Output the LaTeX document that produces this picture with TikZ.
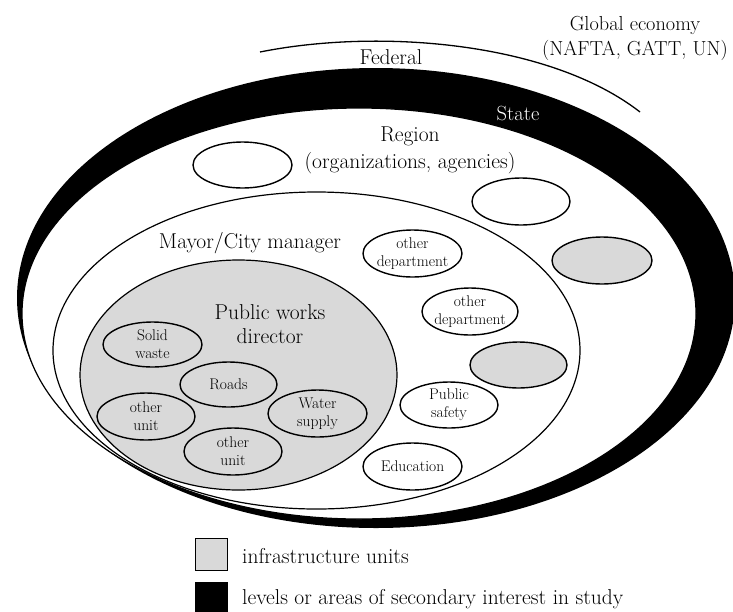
\documentclass[tikz,border=0pt]{standalone}
\usetikzlibrary{shapes.geometric}
\begin{document}
\begin{tikzpicture}[x=1pt,y=-1pt,
  bigtext/.style={font=\fontsize{21.5}{25}\selectfont, align=center, inner sep=0pt},
  smalltext/.style={font=\fontsize{15.5}{18}\selectfont, align=center, inner sep=0pt},
  oval/.style={ellipse, draw, line width=1.4pt, inner sep=0pt, outer sep=0pt},
  unit/.style={oval, minimum width=98pt, minimum height=46pt},
  infra/.style={fill=black!15},
  legsq/.style={draw, line width=1pt, minimum width=32pt, minimum height=32pt, inner sep=0pt}]
\useasboundingbox (0,0) rectangle (733,611);
% State (black ring) and Region
\node[ellipse, fill=black, inner sep=0pt, minimum width=718pt, minimum height=460pt] (state) at (376,298) {};
\node[oval, fill=white, line width=1.2pt, minimum width=674pt, minimum height=411pt] (region) at (359,313.5) {};
% Mayor and public works
\node[oval, line width=1.2pt, minimum width=527pt, minimum height=317pt] (mayor) at (316.5,350.5) {};
\node[oval, infra, line width=1.2pt, minimum width=317pt, minimum height=230pt] (pw) at (238.5,375) {};
% Federal arc
\coordinate (fedL) at (260,52);
\coordinate (fedR) at (640,112);
\draw[line width=1.3pt] (fedL) .. controls (380,28) and (550,42) .. (fedR);
% Top texts
\node[bigtext, font=\fontsize{20.3}{25}\selectfont] (global) at (635,38) {Global economy\\(NAFTA, GATT, UN)};
\node[bigtext] (federal) at (391,57) {Federal};
\node[bigtext, font=\fontsize{20.5}{25}\selectfont, text=white] (statelbl) at (518,113) {State};
\node[bigtext, font=\fontsize{21.5}{27}\selectfont] (regionlbl) at (410,150) {Region\\(organizations, agencies)};
\node[bigtext] (mayorlbl) at (250,243) {Mayor/City manager};
\node[bigtext, font=\fontsize{21.5}{23.5}\selectfont] (pwlbl) at (270,324) {Public works\\director};
% Region ovals
\node[unit, minimum width=99pt] (er1) at (242.5,165) {};
\node[unit, minimum height=47pt] (er2) at (521,201.5) {};
\node[unit, infra, minimum width=100pt, minimum height=47pt] (gr) at (602,260.5) {};
% Mayor ovals
\node[unit, minimum width=99pt, minimum height=47pt] (od1) at (412.5,253.5) {};
\node[smalltext] (od1t) at (od1) {other\\department};
\node[unit, minimum width=96pt, minimum height=47pt] (od2) at (470,311.5) {};
\node[smalltext] (od2t) at (od2) {other\\department};
\node[unit, infra, minimum width=97pt] (gm) at (518.5,365) {};
\node[unit] (ps) at (449,405) {};
\node[smalltext] (pst) at (ps) {Public\\safety};
\node[unit, minimum width=99pt, minimum height=47pt] (ed) at (412.5,466.5) {};
\node[smalltext] (edt) at (ed) {Education};
% Public works units
\node[unit, minimum width=99pt, minimum height=45pt] (sw) at (152.5,344.5) {};
\node[smalltext] (swt) at (sw) {Solid\\waste};
\node[unit, minimum width=97pt, minimum height=45pt] (ro) at (228.5,384.5) {};
\node[smalltext] (rot) at (ro) {Roads};
\node[unit, minimum height=47pt] (ou1) at (146,416.5) {};
\node[smalltext] (ou1t) at (ou1) {other\\unit};
\node[unit, minimum width=99pt, minimum height=47pt] (ws) at (317.5,413.5) {};
\node[smalltext] (wst) at (ws) {Water\\supply};
\node[unit, minimum height=47pt] (ou2) at (233,451.5) {};
\node[smalltext] (ou2t) at (ou2) {other\\unit};
% Legend
\node[legsq, infra] (lg1) at (211,554) {};
\node[bigtext, anchor=west] (lg1t) at (242,556) {infrastructure units};
\node[legsq, fill=black] (lg2) at (211,598) {};
\node[bigtext, anchor=west] (lg2t) at (242,599) {levels or areas of secondary interest in study};
\end{tikzpicture}
\end{document}
